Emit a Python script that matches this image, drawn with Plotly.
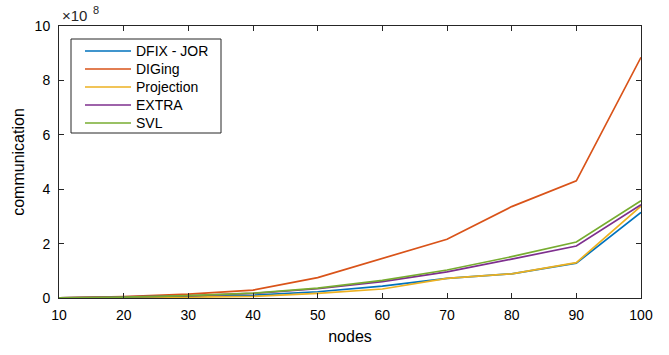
import plotly.graph_objects as go

nodes = [10, 20, 30, 40, 50, 60, 70, 80, 90, 100]

# communication values (x 1e8)
dfix_jor = [0.002, 0.02, 0.05, 0.10, 0.23, 0.44, 0.72, 0.89, 1.28, 3.15]
diging = [0.002, 0.05, 0.14, 0.29, 0.75, 1.46, 2.16, 3.36, 4.31, 8.85]
projection = [0.002, 0.01, 0.03, 0.06, 0.17, 0.33, 0.72, 0.89, 1.30, 3.38]
extra = [0.002, 0.03, 0.08, 0.17, 0.34, 0.60, 0.96, 1.43, 1.91, 3.43]
svl = [0.002, 0.03, 0.09, 0.18, 0.36, 0.65, 1.03, 1.52, 2.06, 3.58]

series_names = ["DFIX - JOR", "DIGing", "Projection", "EXTRA", "SVL"]
series_values = [dfix_jor, diging, projection, extra, svl]
colors = ["#0072BD", "#D95319", "#EDB120", "#7E2F8E", "#77AC30"]

y_ticks = [0, 2, 4, 6, 8, 10]
x_ticks = [10, 20, 30, 40, 50, 60, 70, 80, 90, 100]

font_family = "Liberation Sans, Arial, sans-serif"
axis_color = "#262626"

# layout geometry (pixels)
W, H = 669, 355
L, R, T, B = 59, 28, 26, 57
PW, PH = W - L - R, H - T - B


def px(xpix):
    return (xpix - L) / PW


def py(ypix):
    return (H - B - ypix) / PH


fig = go.Figure()
for name, vals, c in zip(series_names, series_values, colors):
    fig.add_trace(go.Scatter(
        x=nodes, y=[v * 1e8 for v in vals], mode="lines", name=name,
        line=dict(color=c, width=1.7), showlegend=False,
    ))

# custom legend (MATLAB style)
shapes = [dict(type="rect", xref="paper", yref="paper",
               x0=px(71), x1=px(221), y0=py(133), y1=py(39),
               line=dict(color=axis_color, width=1), fillcolor="white", layer="above")]
annotations = []
for i, (name, c) in enumerate(zip(series_names, colors)):
    yc = 51 + 18 * i
    shapes.append(dict(type="line", xref="paper", yref="paper",
                       x0=px(85), x1=px(131), y0=py(yc), y1=py(yc),
                       line=dict(color=c, width=1.7), layer="above"))
    annotations.append(dict(text=name, xref="paper", yref="paper",
                            x=px(134), y=py(yc), xanchor="left", yanchor="middle",
                            showarrow=False,
                            font=dict(family=font_family, size=14, color="black")))

# exponent label
annotations.append(dict(
    text="\u00d710", xref="paper", yref="paper", x=px(60), y=py(16),
    xanchor="left", yanchor="middle", showarrow=False,
    font=dict(family=font_family, size=15, color=axis_color),
))
annotations.append(dict(
    text="8", xref="paper", yref="paper", x=px(91), y=py(10),
    xanchor="left", yanchor="middle", showarrow=False,
    font=dict(family=font_family, size=11, color=axis_color),
))

fig.update_layout(
    width=W, height=H,
    margin=dict(l=L, r=R, t=T, b=B),
    paper_bgcolor="white", plot_bgcolor="white",
    font=dict(family=font_family, size=14, color=axis_color),
    showlegend=False,
    xaxis=dict(
        title=dict(text="nodes", font=dict(size=16, color="black"), standoff=9),
        range=[10, 100], tickvals=x_ticks, ticktext=[str(t) for t in x_ticks],
        showgrid=False, zeroline=False, showline=True, linecolor=axis_color, linewidth=1,
        mirror="allticks", ticks="inside", ticklen=5, tickcolor=axis_color,
        tickfont=dict(size=14, color="black"), ticklabelstandoff=4,
    ),
    yaxis=dict(
        title=dict(text="communication", font=dict(size=16, color="black"), standoff=6),
        range=[0, 10e8], tickvals=[t * 1e8 for t in y_ticks], ticktext=[str(t) for t in y_ticks],
        showgrid=False, zeroline=False, showline=True, linecolor=axis_color, linewidth=1,
        mirror="allticks", ticks="inside", ticklen=5, tickcolor=axis_color,
        tickfont=dict(size=14, color="black"), ticklabelstandoff=5,
    ),
    shapes=shapes,
    annotations=annotations,
)

fig.write_html("out.html")
